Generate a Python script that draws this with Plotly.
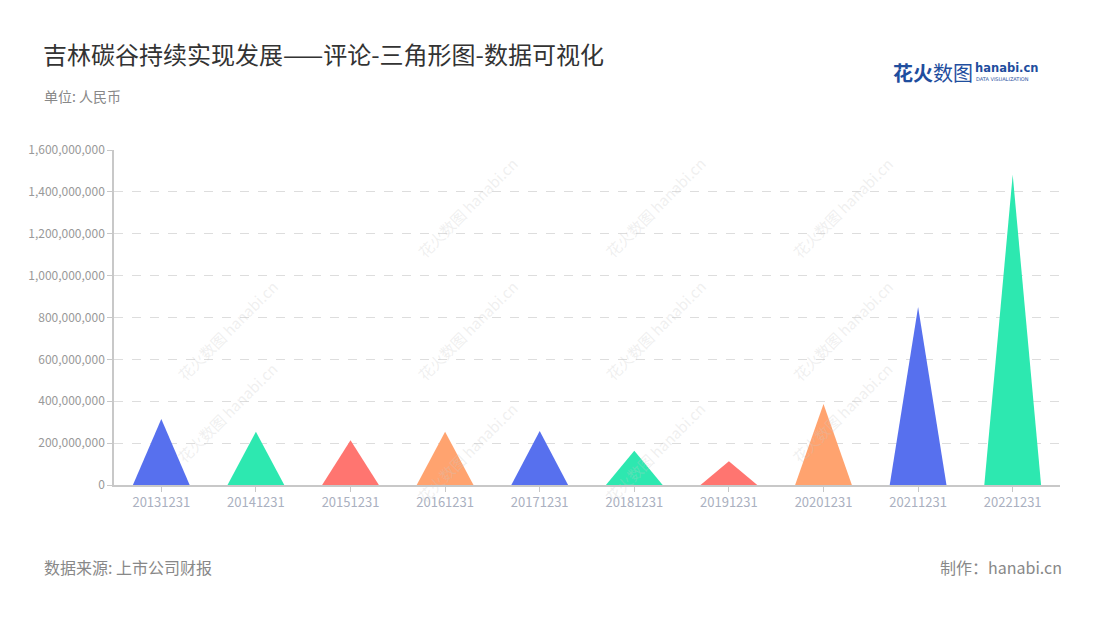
import plotly.graph_objects as go

categories = ["20131231", "20141231", "20151231", "20161231", "20171231",
              "20181231", "20191231", "20201231", "20211231", "20221231"]
values = [315e6, 254e6, 214e6, 254e6, 258e6, 163e6, 114e6, 387e6, 850e6, 1482e6]
palette = ["#5770EE", "#2DE8B0", "#FF7570", "#FFA36F"]
y_ticks = [0, 2e8, 4e8, 6e8, 8e8, 1e9, 1.2e9, 1.4e9, 1.6e9]

FONT = "Noto Sans CJK SC"
half_width = 0.3

# plot-area geometry in screen pixels (used for placing text annotations)
PL, PR, PT, PB = 114, 1060, 150, 485
PW, PH = PR - PL, PB - PT


def px(x):
    return (x - PL) / PW


def py(y):
    return (PB - y) / PH


fig = go.Figure()
for i, (cat, v) in enumerate(zip(categories, values)):
    fig.add_trace(go.Scatter(
        x=[i - half_width, i, i + half_width, i - half_width],
        y=[0, v, 0, 0],
        mode="lines",
        fill="toself",
        fillcolor=palette[i % 4],
        line=dict(width=0, color=palette[i % 4]),
        name=cat,
        hoverinfo="skip",
        showlegend=False,
    ))

# faint watermarks
wm_positions = [(410, 150), (655, 150), (900, 150),
                (170, 330), (410, 330), (655, 330), (900, 330),
                (170, 470), (410, 510), (655, 510), (900, 470)]
for (wx, wy) in wm_positions:
    fig.add_annotation(
        xref="paper", yref="paper", x=px(wx), y=py(wy),
        text="花火数图 hanabi.cn", showarrow=False, textangle=-45,
        font=dict(family=FONT, size=15, color="rgba(200,200,200,0.28)"),
    )

# body margin of 8px shifts the figure; compensate in margins
OFF = 8
fig.update_layout(
    width=1100, height=620,
    paper_bgcolor="white", plot_bgcolor="white",
    margin=dict(l=PL - OFF, r=1100 - (PR - OFF), t=PT - OFF, b=620 - (PB - OFF)),
    font=dict(family=FONT),
    xaxis=dict(
        range=[-0.5, len(categories) - 0.5],
        tickmode="array", tickvals=list(range(len(categories))), ticktext=categories,
        showgrid=False, zeroline=False,
        showline=True, linecolor="#c8c8c8", linewidth=1.5,
        ticks="outside", ticklen=5, tickcolor="#c8c8c8",
        tickfont=dict(family=FONT, size=13, color="#aab0c0"),
        fixedrange=True,
    ),
    yaxis=dict(
        range=[0, 1.6e9],
        tickmode="array", tickvals=y_ticks,
        ticktext=[f"{int(t):,}" for t in y_ticks],
        showgrid=True, gridcolor="#dddddd", griddash="dash", gridwidth=1,
        zeroline=False,
        showline=True, linecolor="#c8c8c8", linewidth=1.5,
        ticks="outside", ticklen=5, tickcolor="#c8c8c8",
        tickfont=dict(family=FONT, size=12, color="#999999"),
        fixedrange=True,
    ),
)

# title & subtitle
fig.add_annotation(xref="paper", yref="paper", x=px(41), y=py(54),
                   xanchor="left", yanchor="middle", showarrow=False,
                   text="吉林碳谷持续实现发展——评论-三角形图-数据可视化",
                   font=dict(family=FONT, size=24, color="#333333"))
fig.add_annotation(xref="paper", yref="paper", x=px(42), y=py(96),
                   xanchor="left", yanchor="middle", showarrow=False,
                   text="单位: 人民币",
                   font=dict(family=FONT, size=14, color="#888888"))
# footer
fig.add_annotation(xref="paper", yref="paper", x=px(42), y=py(567),
                   xanchor="left", yanchor="middle", showarrow=False,
                   text="数据来源: 上市公司财报",
                   font=dict(family=FONT, size=16, color="#888888"))
fig.add_annotation(xref="paper", yref="paper", x=px(1064), y=py(567),
                   xanchor="right", yanchor="middle", showarrow=False,
                   text="制作：hanabi.cn",
                   font=dict(family=FONT, size=16, color="#888888"))
# logo
fig.add_annotation(xref="paper", yref="paper", x=px(891), y=py(72),
                   xanchor="left", yanchor="middle", showarrow=False,
                   text="<b>花火</b>数图",
                   font=dict(family=FONT, size=20, color="#1f4e9e"))
fig.add_annotation(xref="paper", yref="paper", x=px(973), y=py(68),
                   xanchor="left", yanchor="middle", showarrow=False,
                   text="<b>hanabi.cn</b>",
                   font=dict(family="DejaVu Sans", size=11.5, color="#1f4e9e"))
fig.add_annotation(xref="paper", yref="paper", x=px(974), y=py(79),
                   xanchor="left", yanchor="middle", showarrow=False,
                   text="DATA VISUALIZATION",
                   font=dict(family="DejaVu Sans", size=5, color="#1f4e9e"))

fig.write_html("out.html")
